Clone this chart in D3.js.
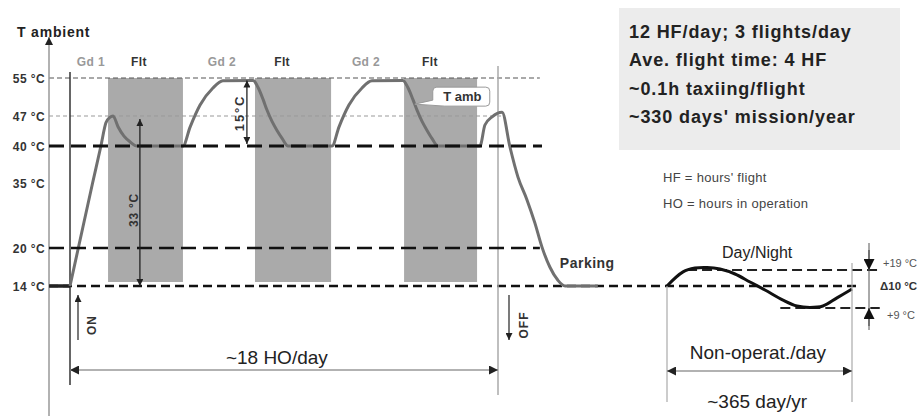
<!DOCTYPE html>
<html>
<head>
<meta charset="utf-8">
<script src="https://cdn.jsdelivr.net/npm/d3@7"></script>
<style>
  body { margin: 0; background: #fff; }
  text { font-family: "Liberation Sans", Arial, sans-serif; }
</style>
</head>
<body>
<div id="chart"></div>
<script>
// Data
//= ================================

// temperature levels on the left axis (°C)
var tempTicks = [55, 47, 40, 35, 20, 14];

// dashed reference levels and the hour where each one stops
var refLevels = [55, 47, 40, 20];
var refEndHours = [19.76, 18.3, 19.85, 19.76];

// flight windows (hours after ON)
var flightStart = [1.6, 7.78, 14.05];
var flightEnd = [4.75, 10.98, 17.12];

// phase labels above the chart
var phaseNames = ["Gd 1", "Flt", "Gd 2", "Flt", "Gd 2", "Flt"];
var phaseHours = [0.88, 2.9, 6.39, 8.92, 12.45, 15.14];

// T amb curve over the operating day (hours, °C)
var tambHours = [-0.88, 0, 0.35, 0.95, 1.30, 1.51, 1.68, 1.81,
    2.02, 2.27, 2.52, 2.82, 4.75,
    5.05, 5.47, 6.01, 6.43, 7.70,
    7.91, 8.12, 8.28, 8.49, 8.70, 8.92, 9.17, 11.02,
    11.31, 11.73, 12.28, 12.70, 14.00,
    14.21, 14.42, 14.59, 14.80, 15.01, 15.22, 15.48, 17.24,
    17.45, 17.75, 18.17,
    18.50, 18.84, 19.22, 19.55, 19.85, 20.18, 20.52, 20.82, 22.20];
var tambTemps = [14, 14, 20, 35, 40, 45.4, 46.7, 47,
    44.5, 42.3, 41, 40, 40,
    44.4, 49.3, 52.9, 54.4, 54.5,
    53, 50.5, 48.3, 45.8, 43.7, 41.8, 40, 40,
    44.4, 49.3, 52.9, 54.4, 54.5,
    53, 50.5, 48.3, 45.8, 43.7, 41.8, 40, 40,
    44.9, 46.8, 47.8,
    39.9, 35.8, 31.1, 25.8, 20.2, 17, 14.9, 14, 14];

// day / night cycle on non-operating days (hours, °C)
var dayHours = [0, 2.08, 3.63, 5.19, 6.88, 8.82, 10.77, 12.71, 15.05, 16.86, 18.55, 20.23, 22.05, 24];
var dayTemps = [14, 18.4, 19.6, 19.8, 19.3, 17.75, 15.25, 13.1, 10.8, 9.45, 9.1, 9.45, 11.3, 13.3];
var dayLevels = [19, 9];
var dayLineStart = [2.6, 14.7];
var dayLineEnd = [27.4, 27.6];

var infoLines = ["12 HF/day; 3 flights/day", "Ave. flight time: 4 HF",
    "~0.1h taxiing/flight", "~330 days' mission/year"];
var noteLines = ["HF = hours' flight", "HO = hours in operation"];

// Step 1: SVG and scales
//= ================================
var svgWidth = 924;
var svgHeight = 416;
var axisX = 49;

var svg = d3.select("#chart")
    .append("svg")
    .attr("width", svgWidth)
    .attr("height", svgHeight);

// schematic axes: the original spacing is not proportional, so the y scale is piecewise
var x = d3.scaleLinear().domain([0, 18]).range([70, 498]);
var y = d3.scaleLinear()
    .domain([14, 20, 35, 40, 47, 55])
    .range([286, 248, 183, 146, 116, 78]);

var xd = d3.scaleLinear().domain([0, 24]).range([667, 852]);
var yd = d3.scaleLinear().domain([9, 14, 19]).range([308, 286, 270]);

// arrow markers
var defs = svg.append("defs");
function makeMarker(id, len, wid, color) {
    defs.append("marker")
        .attr("id", id)
        .attr("viewBox", "0 0 10 10")
        .attr("refX", 10)
        .attr("refY", 5)
        .attr("markerUnits", "userSpaceOnUse")
        .attr("markerWidth", len)
        .attr("markerHeight", wid)
        .attr("orient", "auto-start-reverse")
        .append("path")
        .attr("d", "M0,0L10,5L0,10Z")
        .attr("fill", color);
}
makeMarker("arSmall", 8, 7, "#222");
makeMarker("arMid", 11, 9, "#222");
makeMarker("arBig", 12, 11, "#111");
makeMarker("arAxis", 10, 8, "#222");

// Step 2: flight windows
//= ================================
svg.selectAll(".flt")
    .data(d3.zip(flightStart, flightEnd))
    .enter()
    .append("rect")
    .attr("x", d => x(d[0]))
    .attr("y", y(55))
    .attr("width", d => x(d[1]) - x(d[0]))
    .attr("height", y(14) - y(55) - 4)
    .attr("fill", "#aaaaaa");

// reference levels
var refStyle = {
    55: { stroke: "#555", w: 1.2, dash: "5,3" },
    47: { stroke: "#999", w: 1, dash: "4,3" },
    40: { stroke: "#111", w: 3, dash: "15,7" },
    20: { stroke: "#111", w: 2.5, dash: "15,7" }
};
function drawRef(levels) {
    levels.forEach(function(lv) {
        var i = refLevels.indexOf(lv);
        var s = refStyle[lv];
        svg.append("line")
            .attr("x1", axisX).attr("x2", x(refEndHours[i]))
            .attr("y1", y(lv)).attr("y2", y(lv))
            .attr("stroke", s.stroke)
            .attr("stroke-width", s.w)
            .attr("stroke-dasharray", s.dash);
    });
}
drawRef([55, 47]);

// 14 °C line runs on into the day/night sketch
svg.append("line")
    .attr("x1", axisX).attr("x2", xd(24) + 8)
    .attr("y1", y(14)).attr("y2", y(14))
    .attr("stroke", "#111")
    .attr("stroke-width", 2.5)
    .attr("stroke-dasharray", "9,5");

// day/night levels
dayLevels.forEach(function(lv, i) {
    svg.append("line")
        .attr("x1", xd(dayLineStart[i])).attr("x2", xd(dayLineEnd[i]))
        .attr("y1", yd(lv)).attr("y2", yd(lv))
        .attr("stroke", "#222")
        .attr("stroke-width", 2)
        .attr("stroke-dasharray", "10,5");
});

// Step 3: axis
//= ================================
svg.append("line")
    .attr("x1", axisX).attr("x2", axisX)
    .attr("y1", 416).attr("y2", 37)
    .attr("stroke", "#999")
    .attr("stroke-width", 1.5)
    .attr("marker-end", "url(#arAxis)");

var leftAxis = d3.axisLeft(y)
    .tickValues(tempTicks)
    .tickFormat(d => d + " °C")
    .tickSize(0)
    .tickPadding(4);

var yAxis = svg.append("g")
    .attr("transform", `translate(${axisX}, 1)`)
    .call(leftAxis);
yAxis.select(".domain").remove();
yAxis.selectAll("text")
    .attr("font-size", 12)
    .attr("font-weight", "bold")
    .attr("fill", "#333")
    .attr("letter-spacing", 0.4);

svg.append("text")
    .attr("x", 17).attr("y", 37)
    .attr("font-size", 14)
    .attr("font-weight", "bold")
    .attr("letter-spacing", 0.8)
    .attr("fill", "#222")
    .text("T ambient");

// ON / OFF lines
svg.append("line")
    .attr("x1", x(0)).attr("x2", x(0))
    .attr("y1", 72).attr("y2", 385)
    .attr("stroke", "#333").attr("stroke-width", 1.5);
svg.append("line")
    .attr("x1", x(18)).attr("x2", x(18))
    .attr("y1", 66).attr("y2", 395)
    .attr("stroke", "#aaa").attr("stroke-width", 1.5);

// phase labels
svg.selectAll(".phase")
    .data(phaseNames)
    .enter()
    .append("text")
    .attr("x", (d, i) => x(phaseHours[i]))
    .attr("y", 66)
    .attr("text-anchor", "middle")
    .attr("font-size", 12)
    .attr("font-weight", "bold")
    .attr("letter-spacing", 0.4)
    .attr("fill", d => d === "Flt" ? "#333" : "#999")
    .text(d => d);

// Step 4: T amb curve
//= ================================
var tambData = d3.zip(tambHours, tambTemps);

var tambLine = d3.line()
    .x(d => x(d[0]))
    .y(d => y(d[1]))
    .curve(d3.curveMonotoneX);

// before ON the line sits on the 14 °C level, drawn dark
svg.append("path")
    .datum(tambData.filter(d => d[0] <= 0))
    .attr("d", d3.line().x(d => x(d[0])).y(d => y(d[1])))
    .attr("stroke", "#222")
    .attr("stroke-width", 3.5);

svg.append("path")
    .datum(tambData.filter(d => d[0] >= 0))
    .attr("d", tambLine)
    .attr("fill", "none")
    .attr("stroke", "#707070")
    .attr("stroke-width", 3)
    .attr("stroke-linejoin", "round");

drawRef([40, 20]);

// day/night curve
var dayLine = d3.line()
    .x(d => xd(d[0]))
    .y(d => yd(d[1]))
    .curve(d3.curveCatmullRom.alpha(0.5));

svg.append("path")
    .datum(d3.zip(dayHours, dayTemps))
    .attr("d", dayLine)
    .attr("fill", "none")
    .attr("stroke", "#111")
    .attr("stroke-width", 3);

// Step 5: dimension arrows and notes
//= ================================
function arrowLine(x1, y1, x2, y2, marker, color, both) {
    var l = svg.append("line")
        .attr("x1", x1).attr("y1", y1)
        .attr("x2", x2).attr("y2", y2)
        .attr("stroke", color)
        .attr("stroke-width", 1.3)
        .attr("marker-end", `url(#${marker})`);
    if (both) l.attr("marker-start", `url(#${marker})`);
    return l;
}
function vText(cx, cy, txt, size, spacing) {
    svg.append("text")
        .attr("transform", `translate(${cx + size * 0.36}, ${cy}) rotate(-90)`)
        .attr("text-anchor", "middle")
        .attr("font-size", size)
        .attr("font-weight", "bold")
        .attr("letter-spacing", spacing)
        .attr("fill", "#333")
        .text(txt);
}

// 33 °C span
arrowLine(x(2.94), y(47) + 3, x(2.94), y(14), "arSmall", "#222", true);
vText(x(2.94) - 6, 210, "33 °C", 12, 0.8);

// 15 °C span
arrowLine(x(7.44), y(54.5), x(7.44), y(40) - 2, "arSmall", "#222", true);
vText(x(7.44) - 8, 113, "15°C", 13, 1.8);

// ON / OFF
arrowLine(x(0) + 8, 340, x(0) + 8, 295, "arSmall", "#333", false);
vText(x(0) + 22, 325, "ON", 12, 1);
arrowLine(x(18) + 11, 295, x(18) + 11, 340, "arSmall", "#333", false);
vText(x(18) + 26, 325, "OFF", 12, 1);

// operating day
arrowLine(x(0), 370, x(18), 370, "arMid", "#999", true);
svg.append("text")
    .attr("x", x(8.7)).attr("y", 364)
    .attr("text-anchor", "middle")
    .attr("font-size", 19)
    .attr("fill", "#222")
    .text("~18 HO/day");

svg.append("text")
    .attr("x", x(20.6)).attr("y", 268)
    .attr("font-size", 14)
    .attr("font-weight", "bold")
    .attr("letter-spacing", 0.5)
    .attr("fill", "#333")
    .text("Parking");

// T amb callout
var ax = x(14.5), ay = y(49.5);
var bx = ax + 18, by = ay - 17, bw = 57, bh = 19, r = 4;
svg.append("path")
    .attr("d", `M${bx + r},${by}H${bx + bw - r}Q${bx + bw},${by} ${bx + bw},${by + r}` +
        `V${by + bh - r}Q${bx + bw},${by + bh} ${bx + bw - r},${by + bh}` +
        `H${bx + 12}L${ax},${ay}L${bx},${by + bh - 6}V${by + r}Q${bx},${by} ${bx + r},${by}Z`)
    .attr("fill", "#fff")
    .attr("stroke", "#999")
    .attr("stroke-width", 1);
svg.append("text")
    .attr("x", bx + bw / 2 + 1).attr("y", by + 14)
    .attr("text-anchor", "middle")
    .attr("font-size", 13)
    .attr("font-weight", "bold")
    .attr("fill", "#333")
    .text("T amb");

// day/night frame
svg.append("line")
    .attr("x1", xd(0)).attr("x2", xd(0))
    .attr("y1", yd(14)).attr("y2", 402)
    .attr("stroke", "#aaa").attr("stroke-width", 1.2);
svg.append("line")
    .attr("x1", xd(24)).attr("x2", xd(24))
    .attr("y1", 263).attr("y2", 402)
    .attr("stroke", "#aaa").attr("stroke-width", 1.2);

svg.append("text")
    .attr("x", xd(11.7)).attr("y", 258)
    .attr("text-anchor", "middle")
    .attr("font-size", 16)
    .attr("fill", "#222")
    .text("Day/Night");

// delta arrows
var dx = xd(24) + 17;
svg.append("line")
    .attr("x1", dx).attr("x2", dx)
    .attr("y1", 243).attr("y2", 330)
    .attr("stroke", "#555").attr("stroke-width", 1);
arrowLine(dx, 250, dx, yd(19), "arBig", "#555", false);
arrowLine(dx, 326, dx, yd(9), "arBig", "#555", false);

svg.append("text").attr("x", dx + 14).attr("y", 267)
    .attr("font-size", 11).attr("fill", "#555").text("+19 °C");
svg.append("text").attr("x", dx + 11).attr("y", 290)
    .attr("font-size", 11.5).attr("font-weight", "bold").attr("fill", "#333").text("Δ10 °C");
svg.append("text").attr("x", dx + 18).attr("y", 319)
    .attr("font-size", 11).attr("fill", "#555").text("+9 °C");

arrowLine(xd(0), 371, xd(24), 371, "arMid", "#999", true);
svg.append("text")
    .attr("x", xd(11.8)).attr("y", 359)
    .attr("text-anchor", "middle")
    .attr("font-size", 19)
    .attr("fill", "#222")
    .text("Non-operat./day");
svg.append("text")
    .attr("x", xd(11.7)).attr("y", 408)
    .attr("text-anchor", "middle")
    .attr("font-size", 19)
    .attr("fill", "#222")
    .text("~365 day/yr");

// Step 6: info box
//= ================================
svg.append("rect")
    .attr("x", 619).attr("y", 8)
    .attr("width", 281).attr("height", 142)
    .attr("fill", "#ececec");

svg.selectAll(".info")
    .data(infoLines)
    .enter()
    .append("text")
    .attr("x", 629)
    .attr("y", (d, i) => 38 + i * 28.4)
    .attr("font-size", 18)
    .attr("font-weight", "bold")
    .attr("letter-spacing", 0.9)
    .attr("fill", "#222")
    .text(d => d);

svg.selectAll(".note")
    .data(noteLines)
    .enter()
    .append("text")
    .attr("x", 663)
    .attr("y", (d, i) => 182 + i * 26)
    .attr("font-size", 13)
    .attr("letter-spacing", 0.3)
    .attr("fill", "#444")
    .text(d => d);
</script>
</body>
</html>
